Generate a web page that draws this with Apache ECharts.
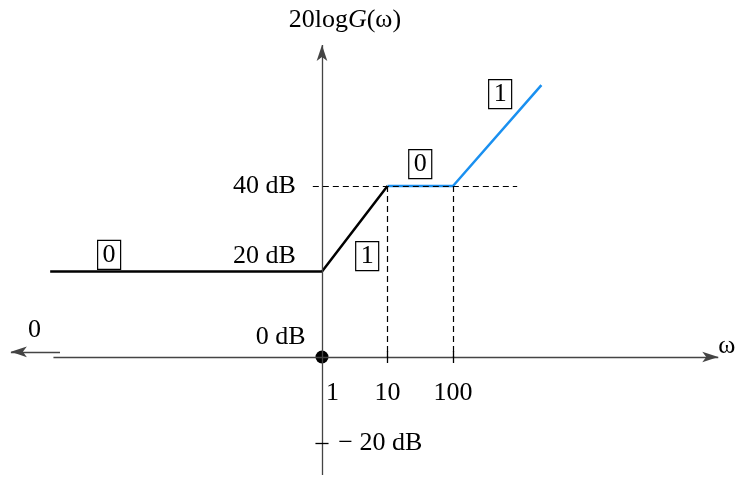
<!DOCTYPE html>
<html>
<head>
<meta charset="utf-8">
<script src="https://cdn.jsdelivr.net/npm/echarts@6/dist/echarts.min.js"></script>
<style>
  html, body { margin: 0; padding: 0; background: #fff; }
  #chart { width: 740px; height: 478px; }
</style>
</head>
<body>
<div id="chart"></div>
<script>
// x is log10(omega), y is dB
var omegaTickPos = [0, 1, 2];
var omegaTickText = ['1', '10', '100'];
var lowPath = [[-4.15, 20], [0, 20], [1, 40]];
var highPath = [[1, 40], [2, 40], [3.35, 63.6]];
var slopeBoxes = [[-3.25, 23.9, '0'], [0.69, 23.6, '1'], [1.5, 45.1, '0'], [2.72, 61.5, '1']];
var dbTickText = [[-0.4, 40, '40 dB'], [-0.4, 23.6, '20 dB'], [-0.25, 4.6, '0 dB'], [0.25, -20.1, '− 20 dB']];

var font = 'Liberation Serif';
var chart = echarts.init(document.getElementById('chart'));

var textData = [];
dbTickText.forEach(function(d, i) {
  textData.push({ value: [d[0], d[1]], label: { formatter: d[2], align: i == 3 ? 'left' : 'right' } });
});
omegaTickPos.forEach(function(p, i) {
  textData.push({ value: [i == 0 ? p + 0.16 : p, -8.4], label: { formatter: omegaTickText[i], align: 'center' } });
});
textData.push({ value: [6.18, 2.6], label: { formatter: 'ω', align: 'center' } });
textData.push({ value: [-4.39, 6.3], label: { formatter: '0', align: 'center' } });
textData.push({ value: [0.35, 78.8], label: { formatter: '20log{i|G}(ω)', align: 'center' } });

var option = {
  animation: false,
  grid: { left: 0, right: 0, top: 0, bottom: 0 },
  xAxis: { type: 'value', min: -4.916, max: 6.382, show: false },
  yAxis: { type: 'value', min: -28.3, max: 83.5, show: false },
  series: [
    {
      type: 'line',
      data: [],
      silent: true,
      markLine: {
        silent: true,
        symbol: ['none', 'arrow'],
        symbolSize: [8, 16],
        label: { show: false },
        lineStyle: { color: '#444', width: 1.3, type: 'solid' },
        data: [
          [{ coord: [-4.1, 0] }, { coord: [6.05, 0] }],
          [{ coord: [0, -27.6] }, { coord: [0, 73] }],
          [{ coord: [-4.0, 1.2] }, { coord: [-4.75, 1.2] }]
        ]
      }
    },
    {
      type: 'line',
      data: [],
      silent: true,
      markLine: {
        silent: true,
        symbol: 'none',
        label: { show: false },
        lineStyle: { color: '#000', width: 1.2, type: [6, 4] },
        data: [
          [{ coord: [-0.14, 40] }, { coord: [2.98, 40] }],
          [{ coord: [1, 40] }, { coord: [1, 0] }],
          [{ coord: [2, 40] }, { coord: [2, 0] }]
        ]
      }
    },
    {
      type: 'line',
      data: [],
      silent: true,
      markLine: {
        silent: true,
        symbol: 'none',
        label: { show: false },
        lineStyle: { color: '#000', width: 1.3, type: 'solid' },
        data: [
          [{ coord: [1, -1.4] }, { coord: [1, 1.4] }],
          [{ coord: [2, -1.4] }, { coord: [2, 1.4] }],
          [{ coord: [-0.1, -20.1] }, { coord: [0.1, -20.1] }]
        ]
      }
    },
    {
      type: 'line',
      data: lowPath,
      symbol: 'none',
      lineStyle: { color: '#000', width: 2.5 }
    },
    {
      type: 'line',
      data: highPath,
      symbol: 'none',
      lineStyle: { color: '#1a90f0', width: 2.5 }
    },
    {
      type: 'scatter',
      data: [[0, 0]],
      symbolSize: 13,
      itemStyle: { color: '#000', opacity: 1 }
    },
    {
      type: 'scatter',
      symbolSize: 0,
      itemStyle: { opacity: 1 },
      data: slopeBoxes.map(function(b) { return { value: [b[0], b[1]], name: b[2] }; }),
      label: {
        show: true,
        position: 'inside',
        formatter: '{b}',
        fontFamily: font,
        fontSize: 26,
        color: '#000',
        borderColor: '#000',
        borderWidth: 1.2,
        padding: [3, 5, 0, 5]
      }
    },
    {
      type: 'scatter',
      symbolSize: 0,
      itemStyle: { opacity: 1 },
      data: textData,
      label: {
        show: true,
        position: 'inside',
        fontFamily: font,
        fontSize: 26,
        color: '#000',
        rich: {
          i: { fontFamily: font, fontSize: 26, fontStyle: 'italic', color: '#000' }
        }
      }
    }
  ]
};
chart.setOption(option);
</script>
</body>
</html>
